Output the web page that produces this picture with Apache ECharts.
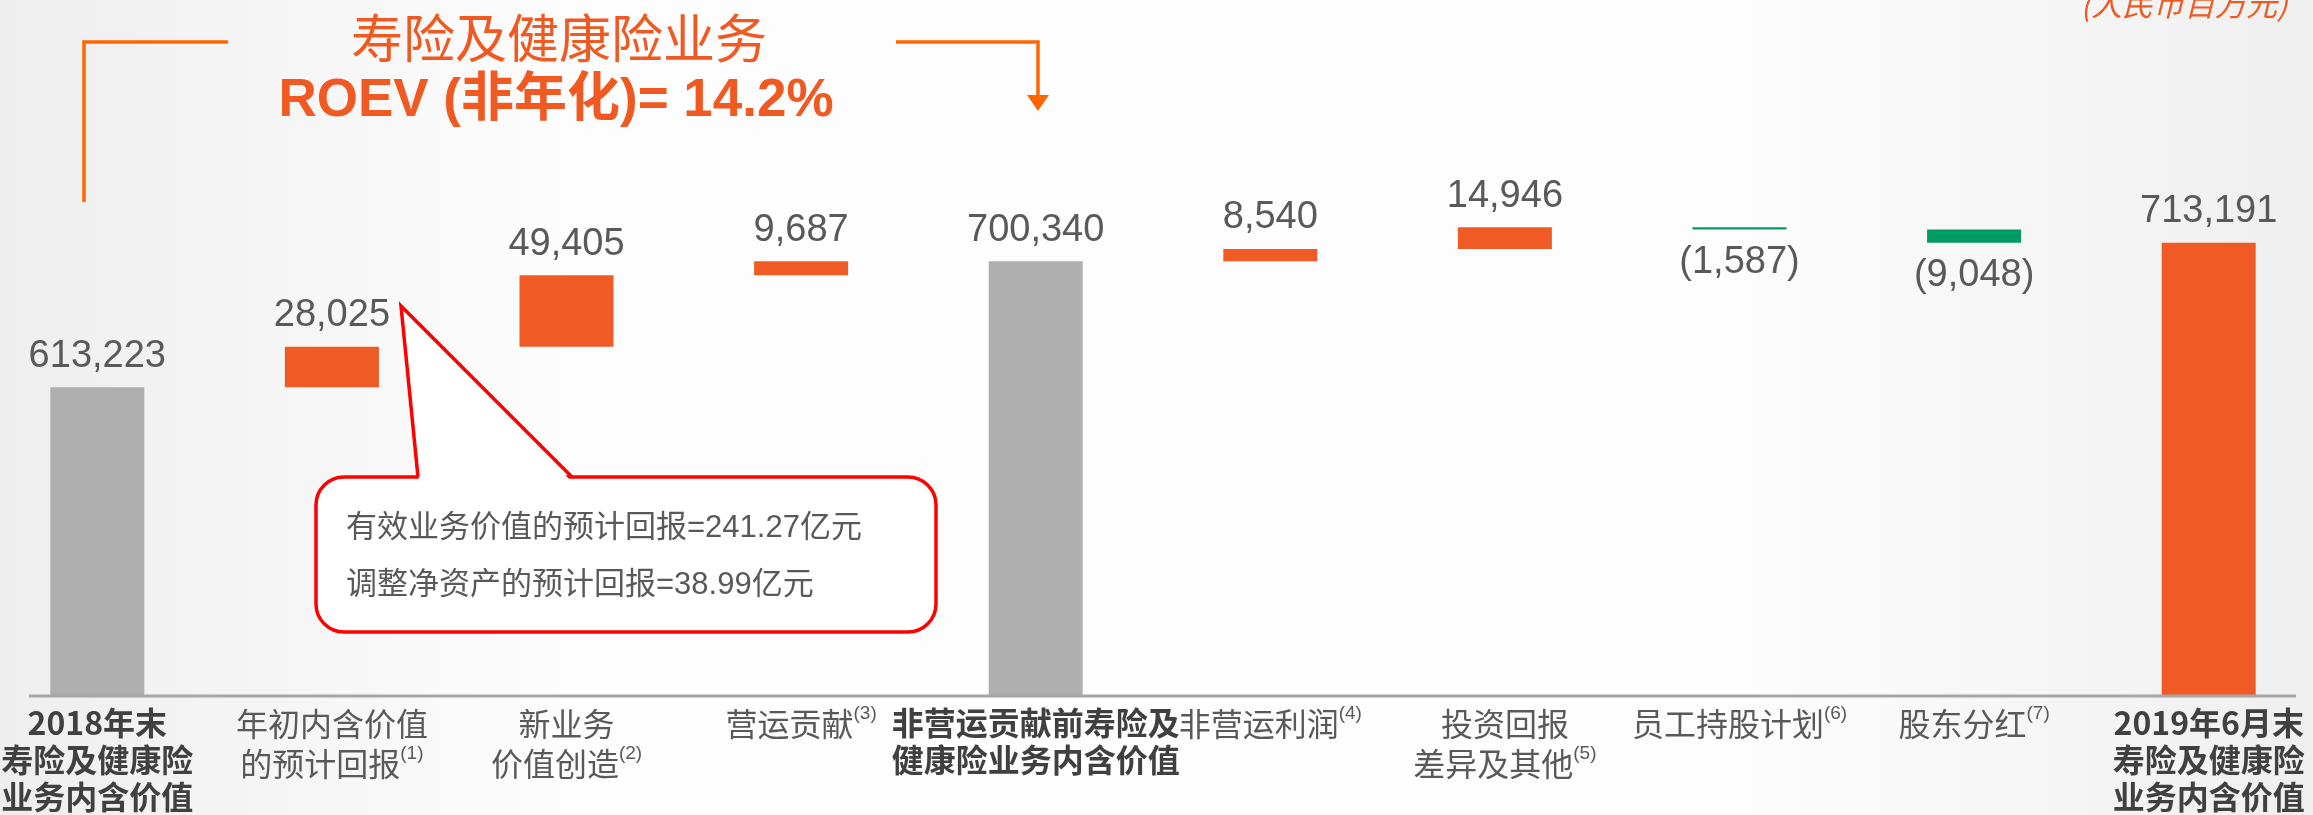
<!DOCTYPE html>
<html>
<head>
<meta charset="utf-8">
<title>寿险及健康险业务内含价值变动</title>
<script src="https://cdn.jsdelivr.net/npm/echarts@6/dist/echarts.min.js"></script>
<style>
  html, body { margin: 0; padding: 0; }
  #chart { width: 2313px; height: 815px; }
</style>
</head>
<body>
<div id="chart"></div>
<script>
// 类目（换行即标签换行）
const categories = [
  '2018年末\n寿险及健康险\n业务内含价值',
  '年初内含价值\n的预计回报',
  '新业务\n价值创造',
  '营运贡献',
  '非营运贡献前寿险及\n健康险业务内含价值',
  '非营运利润',
  '投资回报\n差异及其他',
  '员工持股计划',
  '股东分红',
  '2019年6月末\n寿险及健康险\n业务内含价值'
];
const notes = ['', '(1)', '(2)', '(3)', '', '(4)', '(5)', '(6)', '(7)', ''];
// total = 合计柱，delta = 变动
const kinds = ['total', 'delta', 'delta', 'delta', 'total', 'delta', 'delta', 'delta', 'delta', 'total'];
const values = [613223, 28025, 49405, 9687, 700340, 8540, 14946, -1587, -9048, 713191];

const ORANGE = '#F05A24';
const GRAY = '#AFAFAF';
const GREEN = '#009A63';

// 瀑布图：透明底座 + 可见部分
const baseData = [];
const barData = [];
let running = 0;
values.forEach((v, i) => {
  if (kinds[i] === 'total') {
    baseData.push(0);
    barData.push(v);
    running = v;
  } else if (v >= 0) {
    baseData.push(running);
    barData.push(v);
    running += v;
  } else {
    running += v;
    baseData.push(running);
    barData.push(-v);
  }
});

const fmt = (v) => v < 0 ? '(' + (-v).toLocaleString('en-US') + ')' : v.toLocaleString('en-US');

const barColor = (i) => {
  if (kinds[i] === 'total') return i === values.length - 1 ? ORANGE : GRAY;
  return values[i] < 0 ? GREEN : ORANGE;
};

const chart = echarts.init(document.getElementById('chart'));

chart.setOption({
  animation: false,
  backgroundColor: {
    type: 'linear', x: 0, y: 0, x2: 1, y2: 0,
    colorStops: [
      { offset: 0, color: '#eeeeee' },
      { offset: 0.25, color: '#fdfdfd' },
      { offset: 0.75, color: '#fdfdfd' },
      { offset: 1, color: '#efefef' }
    ]
  },
  grid: { left: -20, right: -13, top: 117, bottom: 119, containLabel: false, outerBoundsMode: 'none' },
  xAxis: {
    type: 'category',
    data: categories,
    axisLine: { show: false },
    axisTick: { show: false },
    axisLabel: {
      interval: 0,
      margin: 8,
      formatter: (val, idx) => {
        const lines = val.split('\n');
        const st = kinds[idx] === 'total' ? 'b' : 'n';
        return lines.map((l, k) =>
          '{' + st + '|' + l + '}' + (k === lines.length - 1 && notes[idx] ? '{sup|' + notes[idx] + '}' : '')
        ).join('\n');
      },
      rich: {
        n: { fontSize: 32, lineHeight: 40, color: '#595959', fontFamily: 'Noto Sans CJK SC' },
        b: { fontSize: 32, lineHeight: 37, color: '#404040', fontWeight: 'bold', fontFamily: 'Noto Sans CJK SC' },
        sup: { fontSize: 19, lineHeight: 30, verticalAlign: 'top', color: '#595959', fontFamily: 'Liberation Sans' }
      }
    }
  },
  yAxis: {
    type: 'value',
    min: 400000,
    max: 800000,
    show: false,
    splitLine: { show: false }
  },
  series: [
    {
      type: 'bar',
      stack: 'wf',
      silent: true,
      barWidth: 94,
      itemStyle: { color: 'transparent' },
      data: baseData
    },
    {
      type: 'bar',
      stack: 'wf',
      barWidth: 94,
      label: {
        show: true,
        fontSize: 38,
        fontFamily: 'Liberation Sans',
        color: '#595959',
        formatter: (p) => fmt(values[p.dataIndex])
      },
      data: barData.map((h, i) => ({
        value: h,
        itemStyle: { color: barColor(i) },
        label: {
          position: values[i] < 0 ? 'bottom' : 'top',
          distance: values[i] < 0 ? 14 : 12
        }
      }))
    }
  ],
  graphic: [
    // 横轴线
    { type: 'line', z: 100, shape: { x1: 29, y1: 696, x2: 2296, y2: 696 }, style: { stroke: '#A6A6A6', lineWidth: 3 } },
    // 标题
    {
      type: 'text', x: 559, y: 38,
      style: { text: '寿险及健康险业务', fill: '#F05A22', font: '52px "Noto Sans CJK SC"', align: 'center', verticalAlign: 'middle' }
    },
    {
      type: 'text', x: 556, y: 101,
      style: { text: 'ROEV (非年化)= 14.2%', fill: '#F05A22', font: 'bold 53px "Liberation Sans", "Noto Sans CJK SC"', align: 'center', verticalAlign: 'middle' }
    },
    // 括线和箭头
    { type: 'polyline', shape: { points: [[84, 202], [84, 42], [228, 42]] }, style: { stroke: '#FF6600', lineWidth: 3.5, fill: null } },
    { type: 'polyline', shape: { points: [[896, 42], [1038, 42], [1038, 98]] }, style: { stroke: '#FF6600', lineWidth: 3.5, fill: null } },
    { type: 'polygon', shape: { points: [[1027, 95], [1049, 95], [1038, 111]] }, style: { fill: '#FF6600' } },
    // 单位
    {
      type: 'text', x: 2184, y: 4,
      style: { text: '(人民币百万元)', fill: '#F05A22', font: 'italic 31px "Noto Sans CJK SC"', align: 'center', verticalAlign: 'middle' }
    },
    // 说明框
    {
      type: 'rect', z: 50,
      shape: { x: 316, y: 477, width: 620, height: 155, r: 28 },
      style: { fill: '#ffffff', stroke: '#FF0000', lineWidth: 3.5 }
    },
    {
      type: 'polygon', z: 51,
      shape: { points: [[419, 481], [401, 306], [571, 481]] },
      style: { fill: '#ffffff' }
    },
    {
      type: 'polyline', z: 52,
      shape: { points: [[418, 477], [401, 306], [572, 477]] },
      style: { stroke: '#FF0000', lineWidth: 3.5, fill: null }
    },
    {
      type: 'text', z: 53, x: 346, y: 528,
      style: { text: '有效业务价值的预计回报=241.27亿元', fill: '#595959', font: '31px "Liberation Sans", "Noto Sans CJK SC"', align: 'left', verticalAlign: 'middle' }
    },
    {
      type: 'text', z: 53, x: 346, y: 585,
      style: { text: '调整净资产的预计回报=38.99亿元', fill: '#595959', font: '31px "Liberation Sans", "Noto Sans CJK SC"', align: 'left', verticalAlign: 'middle' }
    }
  ]
});

window.addEventListener('resize', () => chart.resize());
</script>
</body>
</html>
